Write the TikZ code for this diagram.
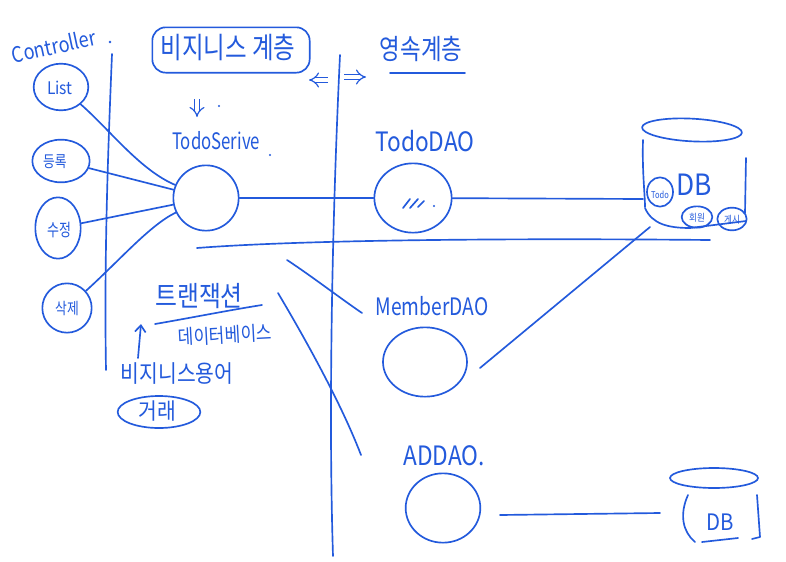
\documentclass[tikz,border=0pt]{standalone}
\usepackage{fontspec}
\setmainfont{Noto Sans CJK KR}[Scale=1]
\usepackage{graphicx}
\usetikzlibrary{shapes.geometric,arrows.meta}
\definecolor{pen}{RGB}{35,90,220}
\newcommand{\hw}[2]{\scalebox{#1}[1]{#2}}
\tikzset{
  ink/.style={draw=pen, line width=1.25pt, line cap=round, line join=round},
  txt/.style={text=pen, inner sep=0pt, anchor=center},
  blob/.style={ellipse, ink, inner sep=0pt},
  dbl/.style={draw=pen, line width=0.9pt, double=white, double distance=3pt, -{Implies}},
}
\begin{document}
\begin{tikzpicture}[x=0.75pt,y=-0.75pt]
\useasboundingbox (0,0) rectangle (786,561);
\fill[white] (0,0) rectangle (786,561);

% ---- left controller column
\node[txt, rotate=12, font=\fontsize{16}{16}\selectfont] (ctrl) at (54,46) {\hw{0.85}{Controller}};
\fill[pen] (110,42) circle (1pt);
\coordinate (lvtop) at (112,54);
\coordinate (lvbot) at (106,370);
\draw[ink] (lvtop) .. controls (108,150) and (104,260) .. (lvbot);

\node[blob, minimum width=41pt, minimum height=35pt] (list) at (61,87) {};
\node[txt, font=\fontsize{13}{13}\selectfont] (listt) at (60,88) {\hw{0.9}{List}};
\node[blob, minimum width=43pt, minimum height=32pt] (reg) at (61,161) {};
\node[txt, font=\fontsize{12}{12}\selectfont] (regt) at (55,162) {\hw{0.8}{등록}};
\node[blob, minimum width=34pt, minimum height=46pt] (upd) at (58,228) {};
\node[txt, font=\fontsize{13}{13}\selectfont] (updt) at (59,230) {\hw{0.75}{수정}};
\node[blob, minimum width=37pt, minimum height=37pt] (del) at (67,308) {};
\node[txt, font=\fontsize{12}{12}\selectfont] (delt) at (67,309) {\hw{0.8}{삭제}};

% ---- business layer
\node[ink, rounded corners=10pt, minimum width=118pt, minimum height=34pt] (bizbox) at (231,50) {};
\node[txt, font=\fontsize{22}{22}\selectfont] (biz) at (228,47) {\hw{0.8}{비지니스 계층}};
\coordinate (dn1) at (197,99);
\coordinate (dn2) at (197,117);
\draw[dbl] (dn1) -- (dn2);
\fill[pen] (219,106) circle (0.9pt);
\node[txt, font=\fontsize{17}{17}\selectfont] (svct) at (216,141) {\hw{0.74}{TodoSerive}};
\fill[pen] (270,155) circle (0.9pt);
\node[blob, minimum width=49pt, minimum height=49pt] (svc) at (206,198) {};

\draw[ink] (list) .. controls (110,130) and (140,170) .. (svc);
\draw[ink] (reg) -- (svc);
\draw[ink] (upd) -- (svc);
\draw[ink] (del) .. controls (120,260) and (150,225) .. (svc);

% ---- middle divider
\coordinate (mvtop) at (340,55);
\coordinate (mvbot) at (333,556);
\draw[ink] (mvtop) .. controls (333,200) and (328,400) .. (mvbot);
\coordinate (la1) at (328,80);
\coordinate (la2) at (309,80);
\draw[dbl] (la1) -- (la2);
\coordinate (ra1) at (344,77);
\coordinate (ra2) at (366,77);
\draw[dbl] (ra1) -- (ra2);

% ---- persistence layer
\node[txt, font=\fontsize{21}{21}\selectfont] (pers) at (421,49) {\hw{0.8}{영속계층}};
\coordinate (ul1) at (390,73);
\coordinate (ul2) at (465,73);
\draw[ink] (ul1) -- (ul2);

\node[txt, font=\fontsize{20}{20}\selectfont] (daot) at (425,141) {\hw{0.85}{TodoDAO}};
\node[blob, minimum width=58pt, minimum height=52pt] (dao) at (413,198) {};
\draw[ink] (403,208) -- (410,199) (410,208) -- (418,199) (418,207) -- (424,201);
\fill[pen] (434,206) circle (0.9pt);

\draw[ink] (svc) -- (dao);

% ---- DB top right
\node[ink, ellipse, minimum width=75pt, minimum height=17pt, rotate=-3] (dbtop) at (692,130) {};
\draw[ink] (643,140) .. controls (642,170) and (645,195) .. (645,207);
\draw[ink] (746,158) -- (745,213);
\draw[ink] (645,208) .. controls (652,224) and (668,228) .. (690,228) -- (746,221);
\node[txt, font=\fontsize{22}{22}\selectfont] (dbt) at (694,185) {\hw{0.9}{DB}};
\node[blob, minimum width=19.5pt, minimum height=22pt] (tdb) at (660,192) {};
\node[txt, font=\fontsize{7}{7}\selectfont] (tdbt) at (660,195) {\hw{0.8}{Todo}};
\node[blob, minimum width=23pt, minimum height=16pt] (mem) at (697,217) {};
\node[txt, font=\fontsize{7.5}{7.5}\selectfont] (memt) at (697,218) {\hw{0.85}{회원}};
\node[blob, minimum width=22pt, minimum height=17pt] (brd) at (732,219) {};
\node[txt, font=\fontsize{7.5}{7.5}\selectfont] (brdt) at (732,220) {\hw{0.85}{게시}};

\coordinate (dbin) at (643,199);
\draw[ink] (dao) -- (dbin);
\coordinate (hl1) at (197,248);
\coordinate (hl2) at (710,240);
\draw[ink] (hl1) .. controls (300,240) and (500,238) .. (hl2);

% ---- transaction notes
\node[txt, font=\fontsize{21}{21}\selectfont] (tx) at (199,296) {\hw{0.85}{트랜잭션}};
\coordinate (tu1) at (155,324);
\coordinate (tu2) at (262,305);
\draw[ink] (tu1) .. controls (190,318) and (230,310) .. (tu2);
\node[txt, font=\fontsize{15}{15}\selectfont, rotate=3] (dbw) at (225,335) {\hw{0.85}{데이터베이스}};
\coordinate (ua1) at (138,358);
\coordinate (ua2) at (141,324);
\draw[ink, -{Straight Barb[length=5pt,width=8pt]}] (ua1) -- (ua2);
\node[txt, font=\fontsize{18}{18}\selectfont] (bw) at (177,374) {\hw{0.85}{비지니스용어}};
\node[blob, minimum width=62pt, minimum height=24pt] (deal) at (159,412) {};
\node[txt, font=\fontsize{17}{17}\selectfont] (dealt) at (157,411) {\hw{0.9}{거래}};

\coordinate (d1) at (287,260);
\coordinate (d2) at (362,313);
\draw[ink] (d1) .. controls (310,275) and (340,298) .. (d2);
\coordinate (c1) at (278,293);
\coordinate (c2) at (361,455);
\draw[ink] (c1) .. controls (300,330) and (340,400) .. (c2);

% ---- MemberDAO
\node[txt, font=\fontsize{18}{18}\selectfont] (memdt) at (432,306) {\hw{0.8}{MemberDAO}};
\node[blob, minimum width=63pt, minimum height=52pt] (memdao) at (425,362) {};
\coordinate (dbm) at (650,227);
\draw[ink] (memdao) ++(55,6) coordinate (mst) -- (dbm);

% ---- ADDAO
\node[txt, font=\fontsize{20}{20}\selectfont] (addt) at (444,456) {\hw{0.85}{ADDAO.}};
\node[blob, minimum width=56pt, minimum height=52pt] (addao) at (443,508) {};
\node[ink, ellipse, minimum width=66pt, minimum height=15pt] (pbtop) at (714,478) {};
\draw[ink] (688,495) .. controls (679,515) and (683,532) .. (695,542);
\draw[ink] (757,495) -- (760,537) -- (752,539);
\draw[ink] (702,542) -- (738,538);
\node[txt, font=\fontsize{17}{17}\selectfont] (pbt) at (720,522) {\hw{0.9}{DB}};
\coordinate (al1) at (500,515);
\coordinate (al2) at (660,513);
\draw[ink] (al1) -- (al2);
\end{tikzpicture}
\end{document}
